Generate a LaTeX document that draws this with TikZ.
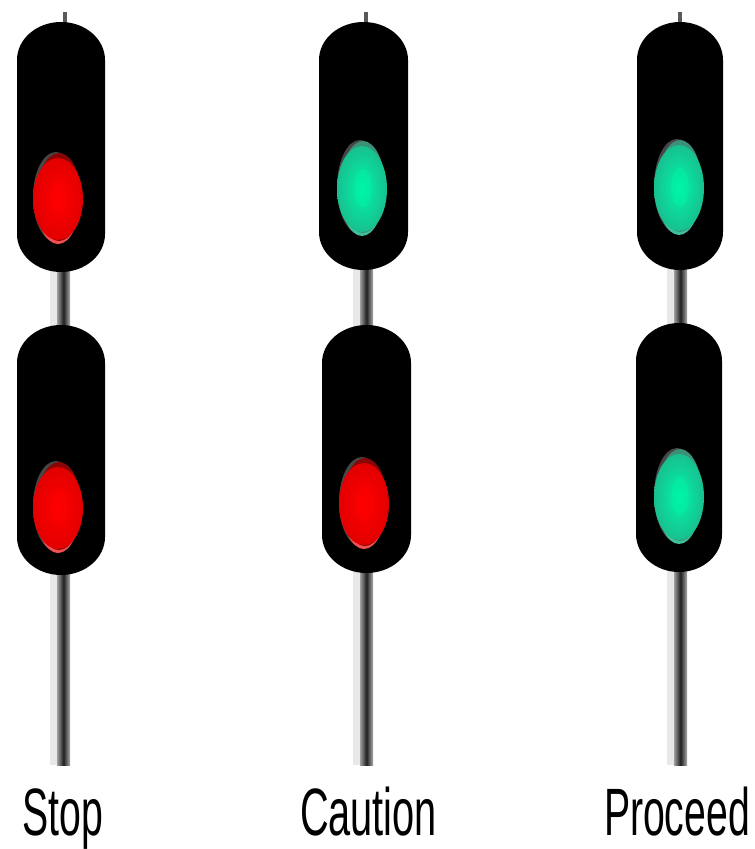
\documentclass[tikz,border=0pt]{standalone}
\usepackage{fontspec}
\setmainfont{Liberation Sans}
\usepackage{graphicx}
\definecolor{redbase}{HTML}{E20000}
\definecolor{redglow}{HTML}{FF0000}
\definecolor{redtop}{HTML}{8A0505}
\definecolor{redlow}{HTML}{F25050}
\definecolor{greenbase}{HTML}{18C08F}
\definecolor{greenglow}{HTML}{00F5A8}
\definecolor{greentop}{HTML}{3E8F78}
\definecolor{greenlow}{HTML}{3FC09A}
\tikzset{
  housing/.style={fill=black,draw=none},
  caption/.style={anchor=base,inner sep=0pt,text=black,font=\fontsize{67}{67}\selectfont},
}
% #1 left, #2 right, #3 top, #4 bottom
\newcommand{\casing}[4]{%
  \pgfmathsetmacro{\rxx}{(#2-#1)/2}%
  \fill[housing] (#1,#3+38) arc[start angle=180,end angle=0,x radius=\rxx,y radius=-38]
    -- (#2,#4-38) arc[start angle=0,end angle=-180,x radius=\rxx,y radius=-38] -- cycle;}
% #1 cx, #2 cy, #3 rx, #4 ry, #5 colour prefix
\newcommand{\lens}[5]{%
  \fill[gray!55!black] (#1-2,#2-1) ellipse[x radius=#3-2,y radius=#4-1];
  \fill[#5low] (#1,#2+2) ellipse[x radius=#3-3,y radius=#4-2];
  \fill[#5top] (#1+1,#2-1) ellipse[x radius=#3-3,y radius=#4-2];
  \shade[inner color=#5glow,outer color=#5base] (#1,#2+1) ellipse[x radius=#3,y radius=#4-5];
  \fill[#5glow,opacity=0.45] (#1+1,#2) ellipse[x radius=#3*0.35,y radius=#4*0.4];}
% #1 centre, #2 top, #3 bottom
\newcommand{\pole}[3]{%
  \fill[gray!18] (#1-10,#2) rectangle (#1,#3);
  \shade[left color=gray!75,right color=gray!65,middle color=gray!25!black] (#1-3,#2) rectangle (#1+10,#3);}
\begin{document}
\begin{tikzpicture}[x=1pt,y=-1pt]
\useasboundingbox (0,0) rectangle (755,849);
\fill[white] (0,0) rectangle (755,849);
% poles
\pole{60}{265}{330}\pole{60}{570}{765}
\pole{363}{265}{330}\pole{363}{570}{765}
\pole{677}{265}{330}\pole{677}{570}{765}
% stubs
\fill[gray!70!black] (63,12) rectangle (67,24);
\fill[gray!70!black] (364,12) rectangle (368,24);
\fill[gray!70!black] (678,12) rectangle (682,24);
% casings
\casing{17}{105}{22}{272}\casing{17}{105}{325}{575}
\casing{319}{408}{22}{270}\casing{322}{411}{325}{573}
\casing{637}{723}{22}{270}\casing{636}{722}{323}{572}
% lenses
\lens{58}{198}{25}{46}{red}\lens{58}{507}{25}{46}{red}
\lens{362}{188}{25}{48}{green}\lens{364}{503}{25}{46}{red}
\lens{679}{187}{25}{48}{green}\lens{679}{496}{25}{48}{green}
% captions
\node[caption] (stop) at (62.5,835) {\scalebox{0.585}[1]{Stop}};
\node[caption] (caution) at (368.5,835) {\scalebox{0.593}[1]{Caution}};
\node[caption] (proceed) at (677,835) {\scalebox{0.585}[1]{Proceed}};
\end{tikzpicture}
\end{document}
